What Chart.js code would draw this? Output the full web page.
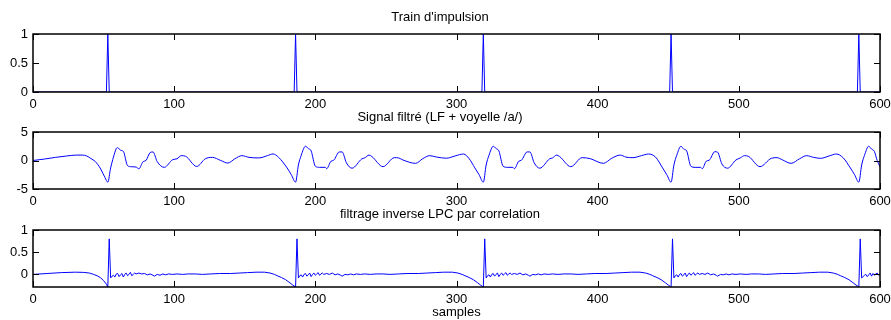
<!DOCTYPE html>
<html><head><meta charset="utf-8">
<script src="https://cdn.jsdelivr.net/npm/chart.js@4.4.1/dist/chart.umd.min.js"></script>
<style>
html,body{margin:0;padding:0;background:#fff;width:891px;height:320px;overflow:hidden;position:relative;}
canvas{position:absolute;left:0;}
</style></head><body>
<canvas id="c1" width="891" height="110" style="top:0px"></canvas>
<canvas id="c2" width="891" height="105" style="top:105px"></canvas>
<canvas id="c3" width="891" height="115" style="top:205px"></canvas>
<script>
// ---------- data ----------
const xTicks = [0, 100, 200, 300, 400, 500, 600];
const titles = ["Train d'impulsion", "Signal filtré (LF + voyelle /a/)", "filtrage inverse LPC par correlation"];
const xAxisTitle = "samples";

const impulseSamples = [53, 186, 319, 452, 585];
const impulseYTicks = [0, 0.5, 1];

const filtSamples = [
  0, 8, 16, 24, 31, 35, 38, 41, 44, 48, 51, 53,
  55, 57, 59, 60, 62, 64, 67, 70, 73, 75, 78, 80, 83, 85, 88, 93, 99, 102, 105, 108, 116, 122, 127, 133, 138, 143, 148, 153, 160, 166, 170, 174, 180, 183, 186,
  188, 190, 193, 195, 197, 200, 203, 207, 208, 211, 213, 217, 219, 222, 226, 233, 235, 238, 240, 248, 256, 259, 262, 271, 276, 281, 286, 293, 299, 305, 309, 313, 316, 319,
  321, 323, 326, 328, 330, 333, 336, 340, 341, 344, 346, 350, 352, 355, 359, 366, 368, 371, 373, 381, 389, 392, 395, 404, 410, 416, 420, 425, 431, 436, 441, 446, 449, 452,
  454, 456, 459, 461, 463, 466, 469, 473, 474, 477, 479, 483, 485, 488, 492, 498, 501, 504, 507, 515, 523, 527, 531, 537, 543, 548, 553, 558, 564, 569, 574, 579, 582, 585,
  587, 589, 592, 594, 596, 598, 600
];
const filtValues = [
  0.0, 0.25, 0.55, 0.8, 0.95, 0.95, 0.8, 0.35, -0.15, -1.5, -3.0, -3.8,
  -1.3, 0.6, 2.1, 2.25, 1.8, 1.6, -0.9, -1.1, -1.15, -1.45, -0.2, 0.0, 1.4, 1.5, -0.2, -1.2, 0.15, 0.3, 0.85, 0.75, -1.05, 0.3, 0.55, 0.0, -0.45, 0.3, 0.85, 0.55, 0.45, 0.85, 1.15, 0.55, -1.3, -2.5, -3.8,
  -0.8, 0.9, 2.5, 2.1, 1.7, -1.0, -1.2, -1.2, -1.45, -0.15, 0.05, 1.5, 1.5, -0.4, -1.35, 0.3, 0.45, 0.95, 0.7, -1.08, 0.5, 0.45, 0.1, -0.5, 0.3, 0.85, 0.6, 0.4, 0.8, 1.14, 0.3, -1.3, -2.5, -3.8,
  -0.8, 0.9, 2.5, 2.1, 1.7, -1.0, -1.2, -1.2, -1.45, -0.15, 0.05, 1.5, 1.5, -0.4, -1.35, 0.3, 0.45, 0.95, 0.7, -1.08, 0.5, 0.45, 0.3, -0.5, 0.4, 0.95, 0.6, 0.5, 0.85, 1.14, 0.6, -1.3, -2.5, -3.8,
  -0.8, 0.9, 2.5, 2.0, 1.7, -1.0, -1.2, -1.2, -1.45, -0.1, 0.05, 1.55, 1.45, -0.6, -1.35, 0.1, 0.45, 0.85, 0.7, -1.08, 0.38, 0.5, 0.1, -0.5, 0.3, 0.85, 0.55, 0.38, 0.8, 1.14, 0.45, -1.3, -2.5, -3.8,
  -0.8, 0.9, 2.5, 2.0, 1.6, 0.0, -1.1
];
const filtYTicks = [-5, 0, 5];

const residualSamples = [
  0, 10, 20, 30, 36, 40, 43, 46, 48, 50, 52, 53, 54,
  55, 56, 57, 58, 59, 60, 61, 62, 63, 64, 65, 66, 67, 68, 69, 70, 71, 72, 73, 75, 77, 79, 81, 83, 85, 86, 88, 90, 92, 94, 96, 99, 102, 106, 110, 115, 120, 126, 132, 140, 146, 152, 158, 164, 168, 171, 173, 176, 179, 182, 184, 186, 187,
  188, 189, 190, 191, 192, 193, 194, 195, 196, 197, 198, 199, 200, 201, 202, 203, 204, 205, 206, 208, 210, 212, 214, 216, 218, 219, 221, 223, 225, 227, 229, 232, 235, 239, 243, 248, 253, 259, 265, 273, 279, 285, 291, 297, 301, 304, 306, 309, 312, 315, 317, 319, 320,
  321, 322, 323, 324, 325, 326, 327, 328, 329, 330, 331, 332, 333, 334, 335, 336, 337, 338, 339, 341, 343, 345, 347, 349, 351, 352, 354, 356, 358, 360, 362, 365, 368, 372, 376, 381, 386, 392, 398, 406, 412, 418, 424, 430, 434, 437, 439, 442, 445, 448, 450, 452, 453,
  454, 455, 456, 457, 458, 459, 460, 461, 462, 463, 464, 465, 466, 467, 468, 469, 470, 471, 472, 474, 476, 478, 480, 482, 484, 485, 487, 489, 491, 493, 495, 498, 501, 505, 509, 514, 519, 525, 531, 539, 545, 551, 557, 563, 567, 570, 572, 575, 578, 581, 583, 585, 586,
  587, 588, 589, 590, 591, 592, 593, 594, 595, 596, 597, 598, 599, 600
];
const residualValues = [
  0.0, 0.02, 0.04, 0.05, 0.045, 0.03, 0.0, -0.04, -0.08, -0.14, -0.22, -0.284, 0.8,
  -0.08, -0.04, -0.02, -0.06, 0.01, 0.02, -0.05, -0.01, 0.02, -0.06, 0.0, 0.03, -0.03, 0.0, 0.045, -0.03, 0.0, 0.03, 0.01, 0.03, 0.01, 0.02, -0.01, 0.01, -0.02, -0.04, 0.0, -0.02, 0.01, -0.01, 0.01, 0.0, 0.01, 0.0, 0.01, 0.01, 0.0, 0.01, 0.02, 0.02, 0.03, 0.04, 0.05, 0.05, 0.03, 0.0, -0.03, -0.07, -0.12, -0.19, -0.24, -0.284, 0.8,
  -0.08, -0.03, -0.01, -0.06, 0.0, 0.02, -0.04, -0.01, 0.03, -0.05, 0.0, 0.03, -0.02, 0.01, 0.04, -0.02, 0.01, 0.03, 0.0, 0.02, 0.0, 0.03, -0.01, 0.01, -0.02, -0.04, 0.0, -0.01, 0.01, -0.01, 0.01, 0.0, 0.01, 0.0, 0.01, 0.01, 0.0, 0.01, 0.02, 0.02, 0.03, 0.04, 0.05, 0.05, 0.03, 0.0, -0.03, -0.07, -0.12, -0.19, -0.24, -0.284, 0.8,
  -0.08, -0.03, -0.01, -0.06, 0.0, 0.02, -0.04, 0.0, 0.03, -0.05, 0.0, 0.03, -0.02, 0.01, 0.04, -0.02, 0.01, 0.03, 0.0, 0.02, 0.0, 0.03, -0.01, 0.01, -0.02, -0.04, 0.0, -0.01, 0.01, -0.01, 0.01, 0.0, 0.01, 0.0, 0.01, 0.01, 0.0, 0.01, 0.02, 0.02, 0.03, 0.04, 0.05, 0.05, 0.03, 0.0, -0.03, -0.07, -0.12, -0.19, -0.24, -0.284, 0.8,
  -0.08, -0.03, -0.01, -0.06, 0.0, 0.02, -0.04, -0.01, 0.03, -0.05, 0.0, 0.03, -0.02, 0.01, 0.04, -0.02, 0.01, 0.03, 0.0, 0.02, 0.0, 0.03, -0.01, 0.01, -0.02, -0.04, 0.0, -0.01, 0.01, -0.01, 0.01, 0.0, 0.01, 0.0, 0.01, 0.01, 0.0, 0.01, 0.02, 0.02, 0.03, 0.04, 0.05, 0.05, 0.03, 0.0, -0.03, -0.07, -0.12, -0.19, -0.24, -0.284, 0.8,
  -0.08, -0.05, -0.02, 0.0, -0.05, -0.01, 0.03, -0.04, 0.02, -0.02, 0.01, 0.03, -0.02, 0.02
];
const residualYTicks = [0, 0.5, 1];

// ---------- build point tables ----------
function impulseTable() {
  const pts = [{x: 0, y: 0}];
  impulseSamples.forEach(n => { pts.push({x: n - 1, y: 0}, {x: n, y: 1}, {x: n + 1, y: 0}); });
  pts.push({x: 600, y: 0});
  return pts;
}
function pairTable(xs, ys) { return xs.map((x, i) => ({x: x, y: ys[i]})); }

// ---------- drawing helpers ----------
const FONT = "'Liberation Sans', Arial, Helvetica, sans-serif";

const framePlugin = {
  id: 'frame',
  afterDatasetsDraw(chart) {
    const {ctx, chartArea: a, scales: {x, y}} = chart;
    ctx.save();
    ctx.strokeStyle = '#000';
    ctx.lineWidth = 1;
    ctx.beginPath();
    x.ticks.forEach(t => {
      const px = Math.round(x.getPixelForValue(t.value)) + 0.5;
      ctx.moveTo(px, a.bottom); ctx.lineTo(px, a.bottom - 6);
      ctx.moveTo(px, a.top); ctx.lineTo(px, a.top + 6);
    });
    y.ticks.forEach(t => {
      const py = Math.round(y.getPixelForValue(t.value)) + 0.5;
      ctx.moveTo(a.left, py); ctx.lineTo(a.left + 6, py);
      ctx.moveTo(a.right, py); ctx.lineTo(a.right - 6, py);
    });
    ctx.stroke();
    ctx.lineWidth = 1.5;
    ctx.strokeRect(a.left, a.top, a.right - a.left, a.bottom - a.top);
    ctx.restore();
  }
};

function makeChart(id, points, yMin, yMax, yTickVals, title, titlePad, xHeight, withXTitle, smooth) {
  new Chart(document.getElementById(id), {
    type: 'line',
    data: { datasets: [{
      data: points,
      borderColor: '#0000ff',
      borderWidth: 1,
      pointRadius: 0,
      tension: smooth ? 0.4 : 0,
      cubicInterpolationMode: smooth ? 'monotone' : 'default',
      fill: false
    }]},
    options: {
      responsive: false,
      animation: false,
      devicePixelRatio: 1,
      layout: { padding: { left: 0, right: 11, top: 0, bottom: 0 } },
      plugins: {
        legend: { display: false },
        tooltip: { enabled: false },
        title: {
          display: true, text: title, color: '#000',
          font: { family: FONT, size: 13, weight: 'normal' },
          padding: titlePad
        }
      },
      scales: {
        x: {
          type: 'linear', min: 0, max: 600,
          grid: { display: false, drawTicks: false },
          border: { display: false },
          afterBuildTicks: s => { s.ticks = xTicks.map(v => ({value: v})); },
          afterFit: s => { s.height = xHeight; s.paddingLeft = 0; s.paddingRight = 0; },
          ticks: { color: '#000', font: { family: FONT, size: 13 }, padding: 5, maxRotation: 0, autoSkip: false,
                   callback: v => String(v) },
          title: { display: withXTitle, text: xAxisTitle, color: '#000', font: { family: FONT, size: 13 }, padding: { top: 0, bottom: 0 } }
        },
        y: {
          type: 'linear', min: yMin, max: yMax,
          grid: { display: false, drawTicks: false },
          border: { display: false },
          afterBuildTicks: s => { s.ticks = yTickVals.map(v => ({value: v})); },
          afterFit: s => { s.width = 33; s.paddingTop = 0; s.paddingBottom = 0; },
          ticks: { color: '#000', font: { family: FONT, size: 13 }, padding: 5,
                   callback: v => String(v) }
        }
      }
    },
    plugins: [framePlugin]
  });
}

makeChart('c1', impulseTable(), 0, 1, impulseYTicks, titles[0], {top: 10, bottom: 8.4}, 18, false, false);
makeChart('c2', pairTable(filtSamples, filtValues), -5, 5, filtYTicks, titles[1], {top: 4.7, bottom: 6.7}, 21, false, true);
makeChart('c3', pairTable(residualSamples, residualValues), -0.284, 1, residualYTicks, titles[2], {top: 1.7, bottom: 7.7}, 33, true, false);
</script>
</body></html>
